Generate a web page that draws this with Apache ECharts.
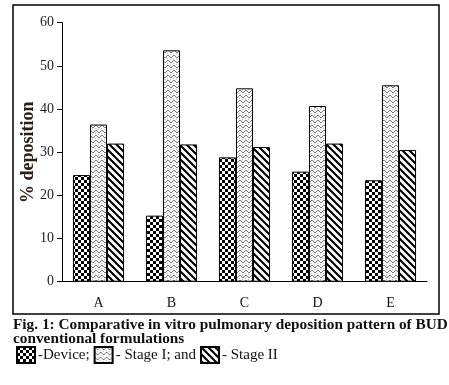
<!DOCTYPE html>
<html><head><meta charset="utf-8">
<script src="https://cdn.jsdelivr.net/npm/echarts@6/dist/echarts.min.js"></script>
<style>html,body{margin:0;padding:0;background:#fff}#c{width:449px;height:385px}</style>
</head><body><div id="c"></div>
<script>
const categories = ['A', 'B', 'C', 'D', 'E'];
const device = [24.7, 15.3, 28.8, 25.5, 23.5];
const stageI = [36.4, 53.6, 44.8, 40.7, 45.5];
const stageII = [32.0, 31.8, 31.2, 32.0, 30.5];
const yTicks = [0, 10, 20, 30, 40, 50, 60];
const seriesNames = ['Device', 'Stage I', 'Stage II'];
const legendLabels = {'Device': '-Device;', 'Stage I': '- Stage I; and', 'Stage II': '- Stage II'};

function mk(w, h, draw) {
  const c = document.createElement('canvas'); c.width = w; c.height = h;
  const g = c.getContext('2d'); g.fillStyle = '#fff'; g.fillRect(0, 0, w, h); draw(g); return c;
}
const pDevice = mk(6, 6, g => { g.fillStyle = '#000'; g.fillRect(0, 0, 3, 3); g.fillRect(3, 3, 3, 3); });
const pStage1 = mk(6, 5, g => {
  g.fillStyle = '#777';
  [[0,0],[1,1],[2,2],[3,2],[4,1],[5,0]].forEach(p => g.fillRect(p[0], p[1], 1, 1));
  g.fillStyle = '#bbb';
  [[2,4],[5,3]].forEach(p => g.fillRect(p[0], p[1], 1, 1));
});
const pStage2 = mk(7, 7, g => {
  g.strokeStyle = '#000'; g.lineWidth = 2.1;
  for (let k = -7; k <= 7; k += 7) { g.beginPath(); g.moveTo(k - 2, -2); g.lineTo(k + 9, 9); g.stroke(); }
});
const pats = [pDevice, pStage1, pStage2];
const datas = [device, stageI, stageII];

const chart = echarts.init(document.getElementById('c'));
const serif = 'Liberation Serif';
chart.setOption({
  animation: false,
  backgroundColor: '#fff',
  grid: {left: 62, right: 22, top: 22.7, bottom: 103.3},
  legend: {
    data: seriesNames, left: 11, top: 341, icon: 'rect', itemWidth: 18, itemHeight: 16, itemGap: 4,
    formatter: n => legendLabels[n],
    textStyle: {fontFamily: serif, fontSize: 15, color: '#111', padding: [0, 0, 0, -2]}
  },
  xAxis: {
    type: 'category', data: categories,
    axisLine: {lineStyle: {color: '#000', width: 1}},
    axisTick: {length: 5, lineStyle: {color: '#000'}},
    axisLabel: {margin: 15, fontFamily: serif, fontSize: 14, color: '#111'}
  },
  yAxis: {
    type: 'value', min: yTicks[0], max: yTicks[yTicks.length - 1], interval: 10,
    name: '% deposition', nameLocation: 'middle', nameGap: 25, nameMoveOverlap: false,
    nameTextStyle: {fontFamily: serif, fontSize: 18, fontWeight: 'bold', color: '#2a2018'},
    axisLine: {show: true, lineStyle: {color: '#000', width: 1}},
    axisTick: {show: true, length: 5, lineStyle: {color: '#000'}},
    axisLabel: {margin: 8, fontFamily: serif, fontSize: 14, color: '#222'},
    splitLine: {show: false}
  },
  series: seriesNames.map((n, i) => ({
    name: n, type: 'bar', data: datas[i], barGap: '0%', barCategoryGap: '30%',
    itemStyle: {color: {image: pats[i], repeat: 'repeat'}, borderColor: '#000', borderWidth: 1}
  })),
  graphic: [
    {type: 'rect', shape: {x: 13, y: 5, width: 426, height: 309}, style: {fill: 'none', stroke: '#000', lineWidth: 1.5}, silent: true},
    {type: 'text', left: 13, top: 318, style: {text: 'Fig. 1: Comparative in vitro pulmonary deposition pattern of BUD', font: 'bold 15.3px "Liberation Serif"', fill: '#111'}},
    {type: 'text', left: 13, top: 332, style: {text: 'conventional formulations', font: 'bold 15.3px "Liberation Serif"', fill: '#111'}}
  ]
});
</script></body></html>
